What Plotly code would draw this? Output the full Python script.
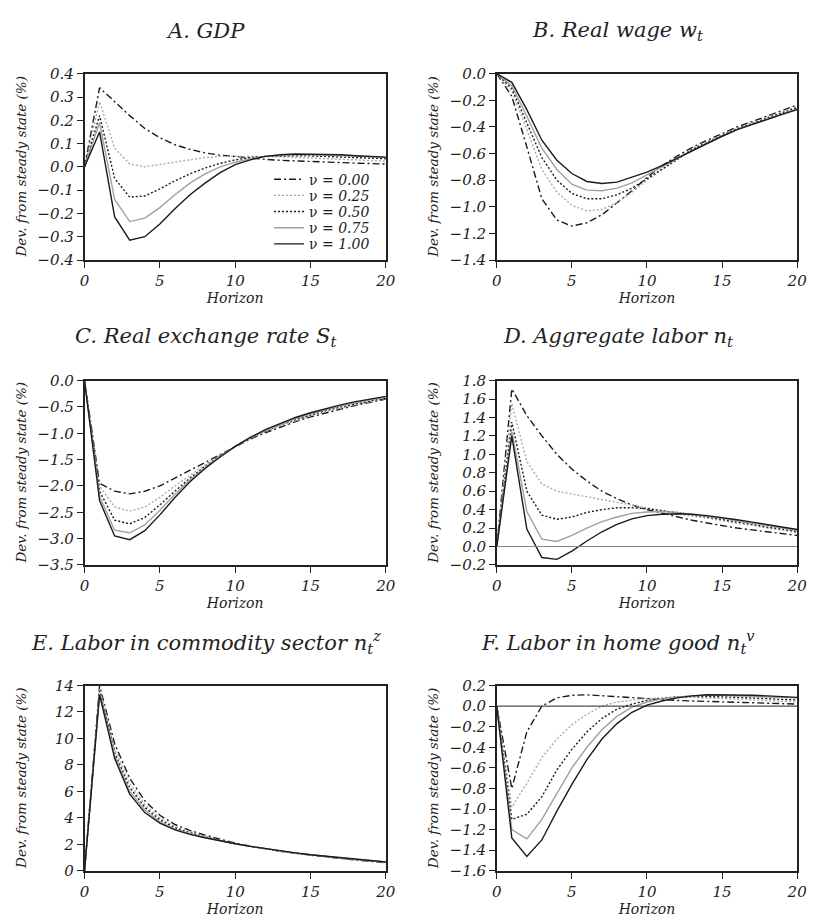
import plotly.graph_objects as go

horizon = list(range(21))
nu_labels = ["0.00", "0.25", "0.50", "0.75", "1.00"]

# Panel A: GDP
gdp_000 = [0, 0.34, 0.28, 0.22, 0.165, 0.125, 0.095, 0.075, 0.06, 0.05, 0.045, 0.038, 0.032, 0.028, 0.025, 0.022, 0.02, 0.018, 0.016, 0.014, 0.012]
gdp_025 = [0, 0.28, 0.08, 0.012, 0.0, 0.01, 0.02, 0.03, 0.04, 0.045, 0.046, 0.046, 0.045, 0.043, 0.041, 0.038, 0.035, 0.032, 0.03, 0.027, 0.025]
gdp_050 = [0, 0.22, -0.05, -0.13, -0.125, -0.095, -0.06, -0.03, -0.005, 0.015, 0.03, 0.04, 0.045, 0.048, 0.048, 0.047, 0.045, 0.043, 0.04, 0.037, 0.035]
gdp_075 = [0, 0.19, -0.14, -0.235, -0.22, -0.175, -0.12, -0.07, -0.03, 0.0, 0.02, 0.035, 0.045, 0.05, 0.052, 0.052, 0.051, 0.049, 0.046, 0.043, 0.04]
gdp_100 = [0, 0.15, -0.215, -0.315, -0.30, -0.245, -0.18, -0.12, -0.07, -0.025, 0.01, 0.03, 0.045, 0.052, 0.055, 0.055, 0.054, 0.052, 0.048, 0.045, 0.042]

# Panel B: Real wage
wage_000 = [0, -0.17, -0.55, -0.94, -1.10, -1.145, -1.12, -1.06, -0.97, -0.88, -0.78, -0.69, -0.62, -0.555, -0.50, -0.45, -0.40, -0.36, -0.32, -0.28, -0.235]
wage_025 = [0, -0.13, -0.42, -0.72, -0.89, -0.99, -1.03, -1.02, -0.97, -0.89, -0.80, -0.72, -0.64, -0.565, -0.51, -0.46, -0.41, -0.37, -0.33, -0.29, -0.245]
wage_050 = [0, -0.11, -0.37, -0.63, -0.80, -0.90, -0.94, -0.94, -0.91, -0.86, -0.79, -0.72, -0.645, -0.57, -0.515, -0.465, -0.415, -0.375, -0.335, -0.295, -0.255]
wage_075 = [0, -0.09, -0.32, -0.56, -0.72, -0.83, -0.875, -0.88, -0.86, -0.82, -0.76, -0.70, -0.64, -0.575, -0.52, -0.47, -0.42, -0.38, -0.34, -0.30, -0.265]
wage_100 = [0, -0.065, -0.27, -0.50, -0.65, -0.75, -0.81, -0.825, -0.815, -0.78, -0.74, -0.69, -0.635, -0.575, -0.52, -0.47, -0.42, -0.38, -0.34, -0.305, -0.27]

# Panel C: Real exchange rate
rer_000 = [0, -1.95, -2.10, -2.15, -2.10, -2.00, -1.85, -1.70, -1.55, -1.40, -1.25, -1.11, -0.99, -0.88, -0.78, -0.69, -0.61, -0.54, -0.47, -0.41, -0.35]
rer_025 = [0, -2.00, -2.40, -2.48, -2.40, -2.22, -2.00, -1.80, -1.60, -1.42, -1.25, -1.10, -0.97, -0.86, -0.76, -0.67, -0.59, -0.52, -0.46, -0.40, -0.34]
rer_050 = [0, -2.10, -2.65, -2.72, -2.60, -2.36, -2.10, -1.85, -1.63, -1.43, -1.25, -1.09, -0.96, -0.84, -0.74, -0.65, -0.57, -0.50, -0.44, -0.38, -0.33]
rer_075 = [0, -2.20, -2.84, -2.89, -2.74, -2.46, -2.16, -1.89, -1.65, -1.44, -1.25, -1.09, -0.95, -0.83, -0.72, -0.63, -0.55, -0.48, -0.42, -0.36, -0.31]
rer_100 = [0, -2.28, -2.95, -3.02, -2.85, -2.55, -2.22, -1.92, -1.67, -1.45, -1.25, -1.08, -0.93, -0.81, -0.70, -0.61, -0.53, -0.46, -0.40, -0.35, -0.30]

# Panel D: Aggregate labor
lab_000 = [0, 1.71, 1.42, 1.20, 1.00, 0.84, 0.71, 0.60, 0.52, 0.45, 0.40, 0.36, 0.32, 0.285, 0.255, 0.225, 0.20, 0.18, 0.16, 0.14, 0.12]
lab_025 = [0, 1.55, 0.92, 0.68, 0.60, 0.57, 0.54, 0.51, 0.48, 0.45, 0.42, 0.39, 0.36, 0.33, 0.31, 0.28, 0.25, 0.23, 0.20, 0.18, 0.15]
lab_050 = [0, 1.35, 0.60, 0.34, 0.295, 0.32, 0.37, 0.40, 0.42, 0.42, 0.41, 0.39, 0.37, 0.345, 0.32, 0.29, 0.265, 0.24, 0.21, 0.19, 0.16]
lab_075 = [0, 1.25, 0.38, 0.08, 0.055, 0.12, 0.20, 0.27, 0.32, 0.36, 0.375, 0.38, 0.37, 0.35, 0.33, 0.305, 0.28, 0.25, 0.23, 0.20, 0.17]
lab_100 = [0, 1.20, 0.19, -0.12, -0.14, -0.05, 0.06, 0.16, 0.24, 0.30, 0.335, 0.35, 0.355, 0.35, 0.335, 0.315, 0.29, 0.265, 0.24, 0.21, 0.185]

# Panel E: Labor in commodity sector
com_000 = [0, 14.0, 9.6, 7.0, 5.3, 4.2, 3.5, 3.05, 2.7, 2.4, 2.1, 1.86, 1.65, 1.48, 1.32, 1.18, 1.05, 0.93, 0.82, 0.71, 0.61]
com_025 = [0, 13.8, 9.2, 6.6, 5.0, 4.0, 3.35, 2.95, 2.6, 2.3, 2.08, 1.86, 1.66, 1.49, 1.33, 1.19, 1.06, 0.94, 0.83, 0.73, 0.63]
com_050 = [0, 13.6, 8.9, 6.3, 4.8, 3.85, 3.25, 2.87, 2.55, 2.28, 2.06, 1.85, 1.66, 1.5, 1.34, 1.2, 1.07, 0.96, 0.85, 0.75, 0.65]
com_075 = [0, 13.4, 8.7, 6.0, 4.6, 3.7, 3.15, 2.8, 2.52, 2.26, 2.05, 1.85, 1.67, 1.5, 1.35, 1.21, 1.08, 0.97, 0.86, 0.76, 0.67]
com_100 = [0, 13.3, 8.5, 5.8, 4.4, 3.6, 3.1, 2.75, 2.5, 2.25, 2.05, 1.85, 1.67, 1.51, 1.36, 1.22, 1.1, 0.98, 0.88, 0.78, 0.68]

# Panel F: Labor in home good
home_000 = [0, -0.80, -0.25, 0.0, 0.08, 0.105, 0.11, 0.10, 0.09, 0.08, 0.07, 0.06, 0.055, 0.05, 0.045, 0.04, 0.035, 0.03, 0.027, 0.023, 0.02]
home_025 = [0, -0.98, -0.75, -0.50, -0.32, -0.18, -0.08, 0.0, 0.04, 0.06, 0.075, 0.08, 0.085, 0.085, 0.08, 0.075, 0.07, 0.06, 0.055, 0.048, 0.04]
home_050 = [0, -1.10, -1.05, -0.88, -0.62, -0.42, -0.25, -0.12, -0.03, 0.02, 0.055, 0.075, 0.09, 0.095, 0.095, 0.09, 0.085, 0.08, 0.072, 0.066, 0.06]
home_075 = [0, -1.20, -1.29, -1.10, -0.85, -0.60, -0.40, -0.23, -0.10, -0.01, 0.04, 0.07, 0.09, 0.10, 0.105, 0.105, 0.10, 0.095, 0.09, 0.085, 0.08]
home_100 = [0, -1.28, -1.46, -1.30, -1.02, -0.76, -0.52, -0.32, -0.17, -0.06, 0.01, 0.05, 0.08, 0.10, 0.11, 0.11, 0.11, 0.105, 0.10, 0.092, 0.085]

panels = [
    [gdp_000, gdp_025, gdp_050, gdp_075, gdp_100],
    [wage_000, wage_025, wage_050, wage_075, wage_100],
    [rer_000, rer_025, rer_050, rer_075, rer_100],
    [lab_000, lab_025, lab_050, lab_075, lab_100],
    [com_000, com_025, com_050, com_075, com_100],
    [home_000, home_025, home_050, home_075, home_100],
]

titles = [
    "A. GDP",
    "B. Real wage w<sub>t</sub>",
    "C. Real exchange rate S<sub>t</sub>",
    "D. Aggregate labor n<sub>t</sub>",
    "E. Labor in commodity sector n<sub>t</sub><sup>z</sup>",
    "F. Labor in home good n<sub>t</sub><sup>v</sup>",
]

y_ranges = [(-0.4, 0.4), (-1.4, 0.0), (-3.5, 0.0), (-0.2, 1.8), (0, 14), (-1.6, 0.2)]
y_dticks = [0.1, 0.2, 0.5, 0.2, 2, 0.2]
y_formats = [".1f", ".1f", ".1f", ".1f", "d", ".1f"]

styles = [
    dict(color="#1a1a1a", dash="7px,3px,2px,3px"),
    dict(color="#ababab", dash="2px,2px"),
    dict(color="#1a1a1a", dash="2px,2px"),
    dict(color="#a0a0a0", dash="solid"),
    dict(color="#1a1a1a", dash="solid"),
]

W, H = 816, 922
# plot area pixel boxes
col_x = [(81, 388), (501, 807)]
row_y = [(66, 256), (379, 567), (690, 879)]
legend_y = [174, 190.5, 207, 223.5, 240]

FONT = "DejaVu Serif"

fig = go.Figure()

for p in range(6):
    r, c = divmod(p, 2)
    ax = "" if p == 0 else str(p + 1)
    for k in range(5):
        fig.add_trace(go.Scatter(
            x=horizon, y=panels[p][k], mode="lines",
            line=dict(width=1.4, **styles[k]),
            name="\u03bd = <i>" + nu_labels[k] + "</i>",
            showlegend=(p == 0),
            legend="legend" if k == 0 else "legend" + str(k + 1),
            xaxis="x" + ax, yaxis="y" + ax,
        ))
    x0, x1 = col_x[c]
    yt, yb = row_y[r]
    common = dict(showline=True, linecolor="#222", linewidth=1.5, mirror=True,
                  ticks="outside", ticklen=6, tickwidth=1.2, tickcolor="#222",
                  showgrid=False, zeroline=False,
                  tickfont=dict(family=FONT, size=15, style="italic", color="#222"))
    fig.layout["xaxis" + ax] = dict(
        domain=[x0 / W, x1 / W], anchor="y" + ax, range=[0, 20],
        tickvals=[0, 5, 10, 15, 20],
        title=dict(text="Horizon", font=dict(family=FONT, size=14, style="italic", color="#222"), standoff=0),
        **common)
    fig.layout["yaxis" + ax] = dict(
        domain=[1 - yb / H, 1 - yt / H], anchor="x" + ax, range=list(y_ranges[p]),
        dtick=y_dticks[p], tickformat=y_formats[p], **common)
    fig.add_annotation(text=titles[p], xref="paper", yref="paper",
                       x=((x0 + x1) / 2 - 30) / W,
                       y=1 - (yt - 44) / H, xanchor="center", yanchor="middle",
                       showarrow=False,
                       font=dict(family=FONT, size=21, style="italic", color="#222"))
    fig.add_annotation(text="Dev. from steady state (%)", xref="paper", yref="paper",
                       x=(16 if c == 0 else 436) / W, y=1 - (yt + yb) / 2 / H,
                       xanchor="center", yanchor="middle", textangle=-90, showarrow=False,
                       font=dict(family=FONT, size=13.5, style="italic", color="#222"))

fig.add_shape(type="line", xref="x4", yref="y4", x0=0, x1=20, y0=0, y1=0,
              line=dict(color="#888", width=1.2))
fig.add_shape(type="line", xref="x6", yref="y6", x0=0, x1=20, y0=0, y1=0,
              line=dict(color="#222", width=1))

legend_common = dict(xanchor="left", yanchor="middle", bgcolor="rgba(0,0,0,0)",
                     itemwidth=30, font=dict(family=FONT, size=14, color="#222"))
layout_legends = {}
for k in range(5):
    key = "legend" if k == 0 else "legend" + str(k + 1)
    layout_legends[key] = dict(x=269 / W, y=1 - legend_y[k] / H, **legend_common)

fig.update_layout(
    width=W, height=H,
    margin=dict(l=0, r=0, t=0, b=0),
    paper_bgcolor="white", plot_bgcolor="white",
    showlegend=True,
    **layout_legends,
)

fig.write_html("out.html", config={"displayModeBar": False},
               post_script="document.body.style.margin='0';")
